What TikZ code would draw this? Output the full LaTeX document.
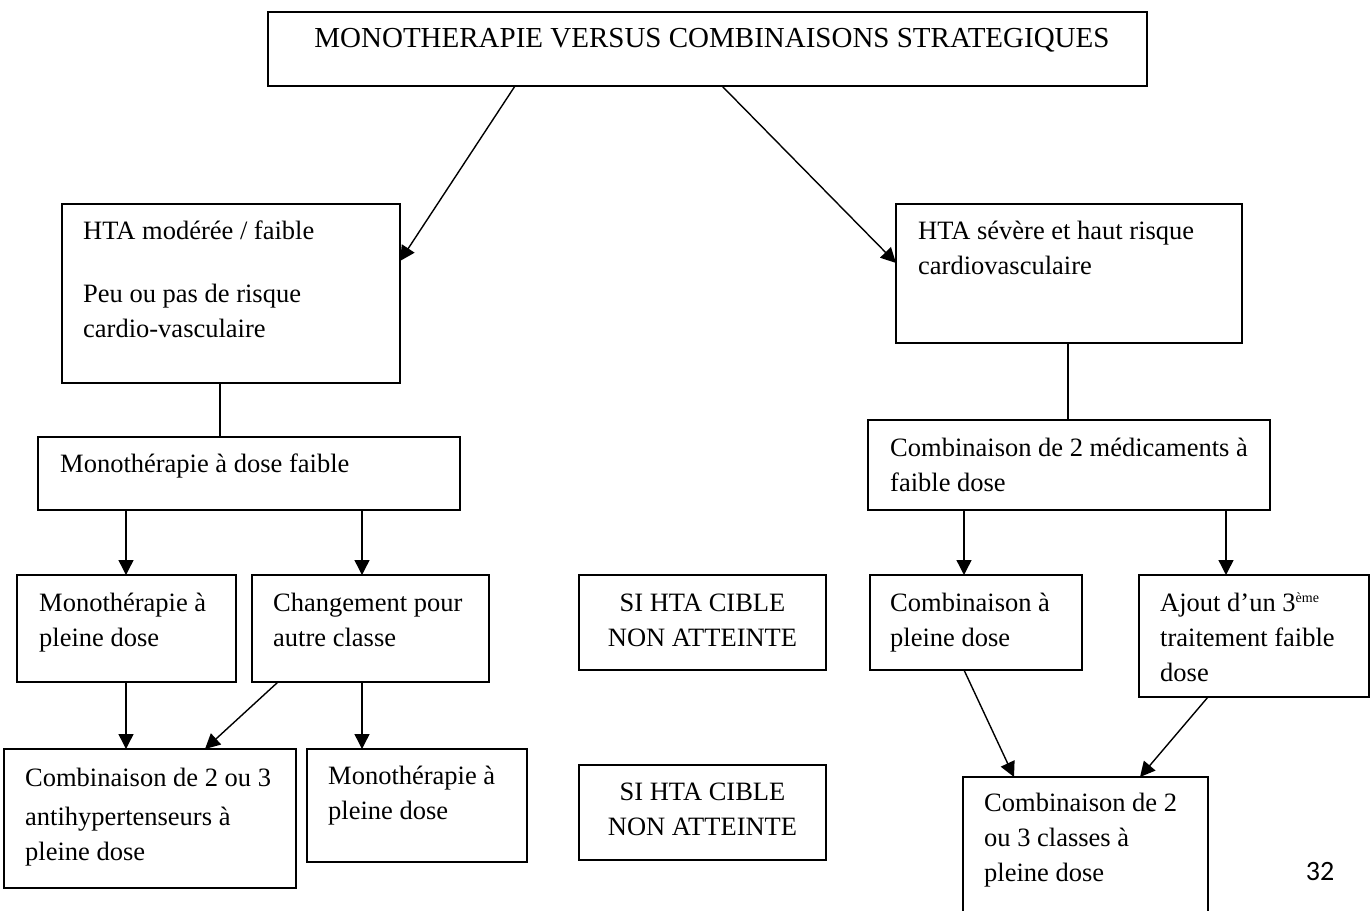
\documentclass[tikz,border=0pt]{standalone}
\usepackage{fontspec}
\setmainfont{Liberation Serif}
\newfontfamily\pagefont{Carlito}
\usetikzlibrary{arrows.meta}

\newcommand{\supsmall}[1]{\raisebox{9pt}{\fontsize{14}{14}\selectfont #1}}

\tikzset{
  box/.style={draw, line width=1.5pt, inner sep=0pt, outer sep=0pt, anchor=north west},
  txt/.style={inner sep=0pt, anchor=north west, align=left, font=\fontsize{26.5}{35}\selectfont},
  ctxt/.style={inner sep=0pt, anchor=north, align=center, font=\fontsize{26.5}{35}\selectfont},
  link/.style={line width=1.4pt},
  arr/.style={line width=1.4pt, -{Triangle[length=15pt,width=15pt]}}
}

\begin{document}
\begin{tikzpicture}[x=1pt, y=-1pt]
\useasboundingbox (0,0) rectangle (1370,910);
\clip (0,0) rectangle (1370,910);

% boxes
\node[box, minimum width=879pt, minimum height=74pt]  (top)  at (268,12)  {};
\node[box, minimum width=338pt, minimum height=179pt] (hta1) at (62,204)  {};
\node[box, minimum width=346pt, minimum height=139pt] (hta2) at (896,204) {};
\node[box, minimum width=422pt, minimum height=73pt]  (mono) at (38,437)  {};
\node[box, minimum width=402pt, minimum height=90pt]  (comb) at (868,420) {};
\node[box, minimum width=219pt, minimum height=107pt] (r3a)  at (17,575)  {};
\node[box, minimum width=237pt, minimum height=107pt] (r3b)  at (252,575) {};
\node[box, minimum width=247pt, minimum height=95pt]  (si1)  at (579,575) {};
\node[box, minimum width=212pt, minimum height=95pt]  (r3c)  at (870,575) {};
\node[box, minimum width=230pt, minimum height=122pt] (r3d)  at (1139,575) {};
\node[box, minimum width=292pt, minimum height=139pt] (r4a)  at (4,749)   {};
\node[box, minimum width=220pt, minimum height=113pt] (r4b)  at (307,749) {};
\node[box, minimum width=247pt, minimum height=95pt]  (si2)  at (579,765) {};
\node[box, minimum width=245pt, minimum height=160pt] (r4c)  at (963,777) {};

% texts
\node[inner sep=0pt, anchor=base, font=\fontsize{29}{35}\selectfont] (top-t) at (712,47)
  {MONOTHERAPIE VERSUS COMBINAISONS STRATEGIQUES};
\node[txt] (hta1-t) at (83,214.5)
  {\strut HTA modérée / faible\\[28pt]Peu ou pas de risque\\cardio-vasculaire};
\node[txt] (hta2-t) at (918,214.5)
  {\strut HTA sévère et haut risque\\cardiovasculaire};
\node[txt] (mono-t) at (60,447.5) {\strut Monothérapie à dose faible};
\node[txt] (comb-t) at (890,431.5)
  {\strut Combinaison de 2 médicaments à\\faible dose};
\node[txt] (r3a-t) at (39,587) {\strut Monothérapie à\\pleine dose};
\node[txt] (r3b-t) at (273,587) {\strut Changement pour\\autre classe};
\node[ctxt] (si1-t) at (702.5,587) {\strut SI HTA CIBLE\\NON ATTEINTE};
\node[txt] (r3c-t) at (890,587) {\strut Combinaison à\\pleine dose};
\node[txt] (r3d-t) at (1160,587)
  {\strut Ajout d’un 3\supsmall{ème}\\traitement faible\\dose};
\node[txt] (r4a-t) at (25,762)
  {\strut Combinaison de 2 ou 3\\[4pt]antihypertenseurs à\\pleine dose};
\node[txt] (r4b-t) at (328,759.5) {\strut Monothérapie à\\pleine dose};
\node[ctxt] (si2-t) at (702.5,775.5) {\strut SI HTA CIBLE\\NON ATTEINTE};
\node[txt] (r4c-t) at (984,787) {\strut Combinaison de 2\\ou 3 classes à\\pleine dose};

% page number
\node[inner sep=0pt, anchor=base, font=\pagefont\fontsize{28}{32}\selectfont] (page) at (1320,880) {32};

% connectors
\draw[arr]  ([xshift=247pt]top.south west) -- ([yshift=-57pt]hta1.north east);
\draw[arr]  ([xshift=454pt]top.south west) -- ([yshift=-59pt]hta2.north west);
\draw[link] ([xshift=158pt]hta1.south west) -- ([xshift=182pt]mono.north west);
\draw[link] ([xshift=172pt]hta2.south west) -- ([xshift=200pt]comb.north west);
\draw[arr]  ([xshift=88pt]mono.south west)  -- ([xshift=109pt]r3a.north west);
\draw[arr]  ([xshift=324pt]mono.south west) -- ([xshift=110pt]r3b.north west);
\draw[arr]  ([xshift=96pt]comb.south west)  -- ([xshift=94pt]r3c.north west);
\draw[arr]  ([xshift=358pt]comb.south west) -- ([xshift=87pt]r3d.north west);
\draw[arr]  ([xshift=109pt]r3a.south west)  -- ([xshift=122pt]r4a.north west);
\draw[arr]  ([xshift=26pt]r3b.south west)   -- ([xshift=201pt]r4a.north west);
\draw[arr]  ([xshift=110pt]r3b.south west)  -- ([xshift=55pt]r4b.north west);
\draw[arr]  ([xshift=94pt]r3c.south west)   -- ([xshift=51pt]r4c.north west);
\draw[arr]  ([xshift=69pt]r3d.south west)   -- ([xshift=177pt]r4c.north west);
\end{tikzpicture}
\end{document}
